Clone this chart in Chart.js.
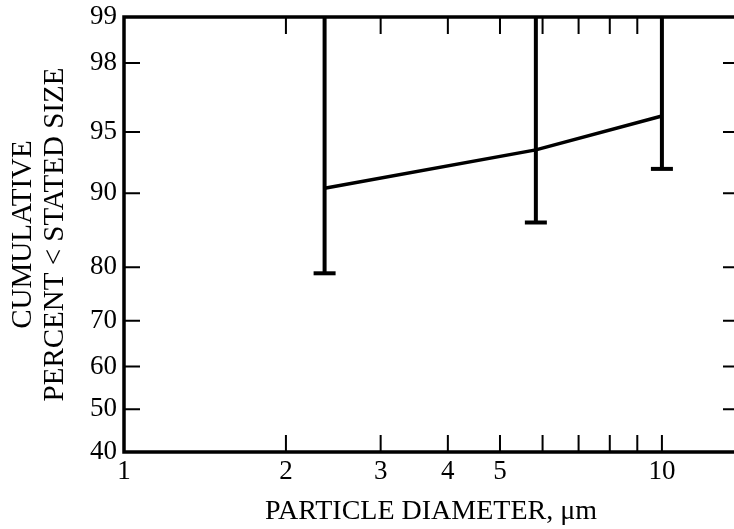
<!DOCTYPE html>
<html lang="en">
<head>
	<meta charset="UTF-8">
	<title>Cumulative Percent vs Particle Diameter</title>
	<script src="https://cdn.jsdelivr.net/npm/chart.js"></script>
	<style>
    	html, body {
        	margin: 0;
        	padding: 0;
        	background: #fff;
        	overflow: hidden;
        	width: 734px;
        	height: 529px;
    	}
    	.wrap {
        	position: relative;
        	width: 734px;
        	height: 529px;
        	overflow: hidden;
    	}
    	.wrap canvas {
        	position: absolute;
        	left: 0;
        	top: 0;
    	}
	</style>
</head>
<body>
	<div class="wrap">
    	<canvas id="chart" width="760" height="529"></canvas>
	</div>

	<script>
    	// data
    	const diameters = [2.36, 5.83, 10];
    	const cumPercent = [90.5, 93.8, 95.9];
    	const errLow = [79.0, 86.6, 92.3];
    	const errHigh = [99, 99, 99];

    	const yTicks = [40, 50, 60, 70, 80, 90, 95, 98, 99];
    	const xTicks = [1, 2, 3, 4, 5, 6, 7, 8, 9, 10];
    	const xLabels = ['1', '2', '3', '4', '5', '', '', '', '', '10'];

    	// inverse normal CDF (Acklam), used for the probability axis
    	function probit(p) {
        	const a = [-3.969683028665376e+01, 2.209460984245205e+02, -2.759285104469687e+02, 1.383577518672690e+02, -3.066479806614716e+01, 2.506628277459239e+00];
        	const b = [-5.447609879822406e+01, 1.615858368580409e+02, -1.556989798598866e+02, 6.680131188771972e+01, -1.328068155288572e+01];
        	const c = [-7.784894002430293e-03, -3.223964580411365e-01, -2.400758277161838e+00, -2.549732539343734e+00, 4.374664141464968e+00, 2.938163982698783e+00];
        	const d = [7.784695709041462e-03, 3.224671290700398e-01, 2.445134137142996e+00, 3.754408661907416e+00];
        	const plow = 0.02425;
        	let q, r;
        	if (p < plow) {
            	q = Math.sqrt(-2 * Math.log(p));
            	return (((((c[0]*q+c[1])*q+c[2])*q+c[3])*q+c[4])*q+c[5]) / ((((d[0]*q+d[1])*q+d[2])*q+d[3])*q+1);
        	}
        	if (p <= 1 - plow) {
            	q = p - 0.5; r = q * q;
            	return (((((a[0]*r+a[1])*r+a[2])*r+a[3])*r+a[4])*r+a[5])*q / (((((b[0]*r+b[1])*r+b[2])*r+b[3])*r+b[4])*r+1);
        	}
        	q = Math.sqrt(-2 * Math.log(1 - p));
        	return -(((((c[0]*q+c[1])*q+c[2])*q+c[3])*q+c[4])*q+c[5]) / ((((d[0]*q+d[1])*q+d[2])*q+d[3])*q+1);
    	}
    	const pz = v => probit(v / 100);

    	const serif = '"Liberation Serif", "Times New Roman", serif';

    	// frame (left, top, bottom), inward ticks and error bars
    	const decorations = {
        	id: 'decorations',
        	afterDatasetsDraw(chart) {
            	const { ctx, chartArea: ca, scales: { x, y } } = chart;
            	ctx.save();
            	ctx.strokeStyle = '#000';

            	// error bars
            	ctx.lineWidth = 4;
            	diameters.forEach((d, i) => {
                	const px = x.getPixelForValue(d);
                	const lo = y.getPixelForValue(pz(errLow[i]));
                	const hi = y.getPixelForValue(pz(errHigh[i]));
                	ctx.beginPath();
                	ctx.moveTo(px, hi);
                	ctx.lineTo(px, lo);
                	ctx.stroke();
                	ctx.beginPath();
                	ctx.moveTo(px - 11, lo);
                	ctx.lineTo(px + 11, lo);
                	ctx.stroke();
            	});

            	// ticks pointing inward
            	ctx.lineWidth = 2;
            	const tl = 17;
            	xTicks.slice(1).forEach(v => {
                	const px = x.getPixelForValue(v);
                	ctx.beginPath();
                	ctx.moveTo(px, ca.bottom);
                	ctx.lineTo(px, ca.bottom - tl);
                	ctx.moveTo(px, ca.top);
                	ctx.lineTo(px, ca.top + tl);
                	ctx.stroke();
            	});
            	yTicks.slice(1, -1).forEach(v => {
                	const py = y.getPixelForValue(pz(v));
                	ctx.beginPath();
                	ctx.moveTo(ca.left, py);
                	ctx.lineTo(ca.left + 16, py);
                	ctx.moveTo(ca.right, py);
                	ctx.lineTo(ca.right - 15, py);
                	ctx.stroke();
            	});

            	// frame: the right side falls outside the picture
            	ctx.lineWidth = 3.5;
            	ctx.beginPath();
            	ctx.moveTo(ca.right + 10, ca.top);
            	ctx.lineTo(ca.left, ca.top);
            	ctx.lineTo(ca.left, ca.bottom);
            	ctx.lineTo(ca.right + 10, ca.bottom);
            	ctx.stroke();
            	ctx.restore();
        	}
    	};

    	new Chart(document.getElementById('chart').getContext('2d'), {
        	type: 'line',
        	data: {
            	datasets: [{
                	data: diameters.map((d, i) => ({ x: d, y: pz(cumPercent[i]) })),
                	borderColor: '#000',
                	borderWidth: 3.5,
                	pointRadius: 0,
                	fill: false,
                	tension: 0
            	}]
        	},
        	options: {
            	responsive: false,
            	animation: false,
            	layout: { padding: { top: 17, right: 22, left: 0, bottom: 0 } },
            	plugins: {
                	legend: { display: false },
                	tooltip: { enabled: false }
            	},
            	scales: {
                	x: {
                    	type: 'logarithmic',
                    	min: 1,
                    	max: 13.85,
                    	grid: { display: false, drawTicks: false },
                    	border: { display: false },
                    	afterBuildTicks: scale => { scale.ticks = xTicks.map(v => ({ value: v })); },
                    	afterFit: scale => { scale.height = 77; },
                    	ticks: {
                        	autoSkip: false,
                        	maxRotation: 0,
                        	padding: 4,
                        	color: '#000',
                        	font: { family: serif, size: 27 },
                        	callback: (val, i) => xLabels[i]
                    	},
                    	title: {
                        	display: true,
                        	text: 'PARTICLE DIAMETER, μm',
                        	color: '#000',
                        	font: { family: serif, size: 28, lineHeight: 1.2 },
                        	padding: { top: 0, bottom: 1 }
                    	}
                	},
                	y: {
                    	type: 'linear',
                    	min: pz(yTicks[0]),
                    	max: pz(yTicks[yTicks.length - 1]),
                    	grid: { display: false, drawTicks: false },
                    	border: { display: false },
                    	afterBuildTicks: scale => { scale.ticks = yTicks.map(v => ({ value: pz(v) })); },
                    	afterFit: scale => { scale.width = 124; },
                    	ticks: {
                        	autoSkip: false,
                        	padding: 7,
                        	color: '#000',
                        	font: { family: serif, size: 27, lineHeight: 0.7 },
                        	callback: (val, i) => String(yTicks[i])
                    	},
                    	title: {
                        	display: true,
                        	text: ['CUMULATIVE', 'PERCENT < STATED SIZE'],
                        	color: '#000',
                        	font: { family: serif, size: 29, lineHeight: 1.08 },
                        	padding: { top: 8, bottom: 0 }
                    	}
                	}
            	}
        	},
        	plugins: [decorations]
    	});
	</script>
</body>
</html>
